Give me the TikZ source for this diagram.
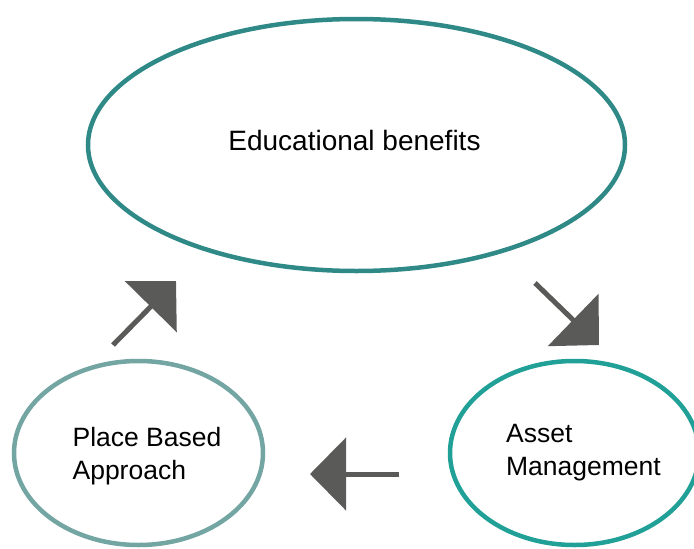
\documentclass[tikz,border=0pt]{standalone}
\usepackage{fontspec}
\setmainfont{Liberation Sans}
\usetikzlibrary{shapes.geometric, arrows.meta}

\definecolor{tealdark}{RGB}{47,138,135}
\definecolor{tealgrey}{RGB}{115,165,163}
\definecolor{tealbright}{RGB}{32,160,150}
\definecolor{arrowgrey}{RGB}{90,90,88}

\begin{document}
\begin{tikzpicture}[x=1pt, y=-1pt,
  ring/.style={ellipse, draw, line width=4.5pt, inner sep=0pt},
  caption/.style={align=left, font=\fontsize{26.5}{33}\selectfont, text=black},
  bigarrow/.style={arrowgrey, line width=5pt, -{Triangle[length=36pt, width=72pt]}}]

  \useasboundingbox (0,0) rectangle (694,549);
  \clip (0,0) rectangle (694,549);

  % Define the three stages
  \node[ring, draw=tealdark, minimum width=537pt, minimum height=252pt] (edu) at (356.5,145) {};
  \node[ring, draw=tealgrey, minimum width=249pt, minimum height=184pt] (place) at (138.5,453) {};
  \node[ring, draw=tealbright, minimum width=249pt, minimum height=184pt] (asset) at (574.5,453) {};

  % Texts inside the stages
  \node[caption, font=\fontsize{28}{34}\selectfont] (edu-txt) at ([xshift=-2pt, yshift=5pt]edu.center) {Educational benefits};
  \node[caption] (place-txt) at ([xshift=8.5pt, yshift=-3.5pt]place.center) {Place Based\\Approach};
  \node[caption] (asset-txt) at ([xshift=9pt]asset.center) {Asset\\Management};

  % Define the cycle arrows
  \coordinate (up-tail) at (113,345);
  \coordinate (up-tip) at (176,281);
  \coordinate (down-tail) at (535,283);
  \coordinate (down-tip) at (599,345);
  \coordinate (left-tail) at (399,474);
  \coordinate (left-tip) at (310,474);

  \draw[bigarrow] (up-tail) -- (up-tip);
  \draw[bigarrow] (down-tail) -- (down-tip);
  \draw[bigarrow] (left-tail) -- (left-tip);
\end{tikzpicture}
\end{document}
